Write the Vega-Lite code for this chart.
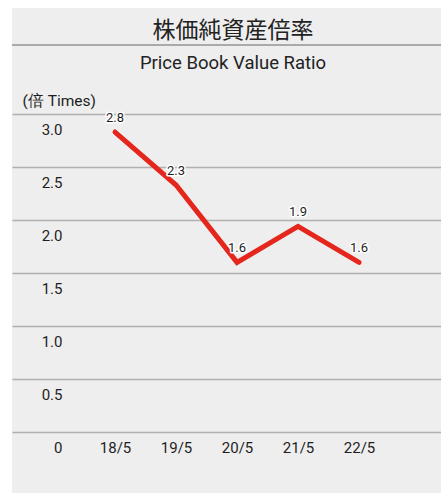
{
  "$schema": "https://vega.github.io/schema/vega-lite/v6.json",
  "width": 429,
  "height": 485,
  "autosize": "none",
  "padding": {"left": 12, "top": 8, "right": 0, "bottom": 0},
  "background": "white",
  "config": {
    "view": {"fill": "#eeeeee", "stroke": null},
    "font": "Roboto"
  },
  "title": {
    "text": "株価純資産倍率",
    "subtitle": "Price Book Value Ratio",
    "anchor": "middle",
    "frame": "group",
    "offset": -64,
    "dx": 6.5,
    "font": "Noto Sans CJK JP",
    "fontSize": 23,
    "fontWeight": "normal",
    "color": "#222222",
    "subtitleFont": "Roboto",
    "subtitleFontSize": 18.5,
    "subtitleColor": "#222222",
    "subtitlePadding": 11
  },
  "data": {
    "values": [
      {"period": "18/5", "year": 2018, "ratio": 2.83, "label": "2.8"},
      {"period": "19/5", "year": 2019, "ratio": 2.33, "label": "2.3"},
      {"period": "20/5", "year": 2020, "ratio": 1.6, "label": "1.6"},
      {"period": "21/5", "year": 2021, "ratio": 1.94, "label": "1.9"},
      {"period": "22/5", "year": 2022, "ratio": 1.6, "label": "1.6"}
    ]
  },
  "layer": [
    {
      "data": {"values": [{"sep": 3.651}]},
      "mark": {"type": "rule", "color": "#aaaaaa", "strokeWidth": 2},
      "encoding": {"y": {"field": "sep", "type": "quantitative"}}
    },
    {
      "mark": {"type": "line", "color": "#e4261c", "strokeWidth": 5, "strokeCap": "round", "strokeJoin": "miter"},
      "encoding": {
        "x": {
          "field": "year",
          "type": "quantitative",
          "scale": {"domain": [2016.311, 2023.344], "nice": false, "zero": false},
          "axis": {
            "orient": "bottom",
            "title": null,
            "values": [2018, 2019, 2020, 2021, 2022],
            "labelExpr": "(datum.value % 100) + '/5'",
            "ticks": false,
            "tickSize": 0,
            "domain": false,
            "grid": false,
            "labelAngle": 0,
            "labelPadding": -46,
            "labelBaseline": "middle",
            "labelFlush": false,
            "labelFontSize": 15,
            "labelColor": "#1e1e1e"
          }
        },
        "y": {
          "field": "ratio",
          "type": "quantitative",
          "scale": {"domain": [0, 3], "range": [424, 106], "nice": false, "zero": false},
          "axis": {
            "values": [0, 0.5, 1, 1.5, 2, 2.5, 3],
            "labelExpr": "datum.value == 0 ? '0' : format(datum.value, '.1f')",
            "ticks": false,
            "tickSize": 0,
            "domain": false,
            "grid": true,
            "gridColor": "#b0b0b0",
            "gridWidth": 1.5,
            "labelPadding": -50,
            "labelAlign": "right",
            "labelBaseline": "middle",
            "labelOffset": 15.5,
            "labelFontSize": 15,
            "labelColor": "#1e1e1e",
            "title": "(倍 Times)",
            "titleFont": "Roboto",
            "titleAngle": 0,
            "titleX": 10,
            "titleY": 92,
            "titleAlign": "left",
            "titleBaseline": "middle",
            "titleFontSize": 15.5,
            "titleFontWeight": "normal",
            "titleColor": "#1e1e1e"
          }
        }
      }
    },
    {
      "mark": {"type": "text", "dy": -14, "fontSize": 13, "stroke": "white", "strokeWidth": 3, "strokeJoin": "round", "color": "white"},
      "encoding": {
        "x": {"field": "year", "type": "quantitative"},
        "y": {"field": "ratio", "type": "quantitative"},
        "text": {"field": "label"}
      }
    },
    {
      "mark": {"type": "text", "dy": -14, "fontSize": 13, "color": "#1e1e1e"},
      "encoding": {
        "x": {"field": "year", "type": "quantitative"},
        "y": {"field": "ratio", "type": "quantitative"},
        "text": {"field": "label"}
      }
    }
  ]
}
